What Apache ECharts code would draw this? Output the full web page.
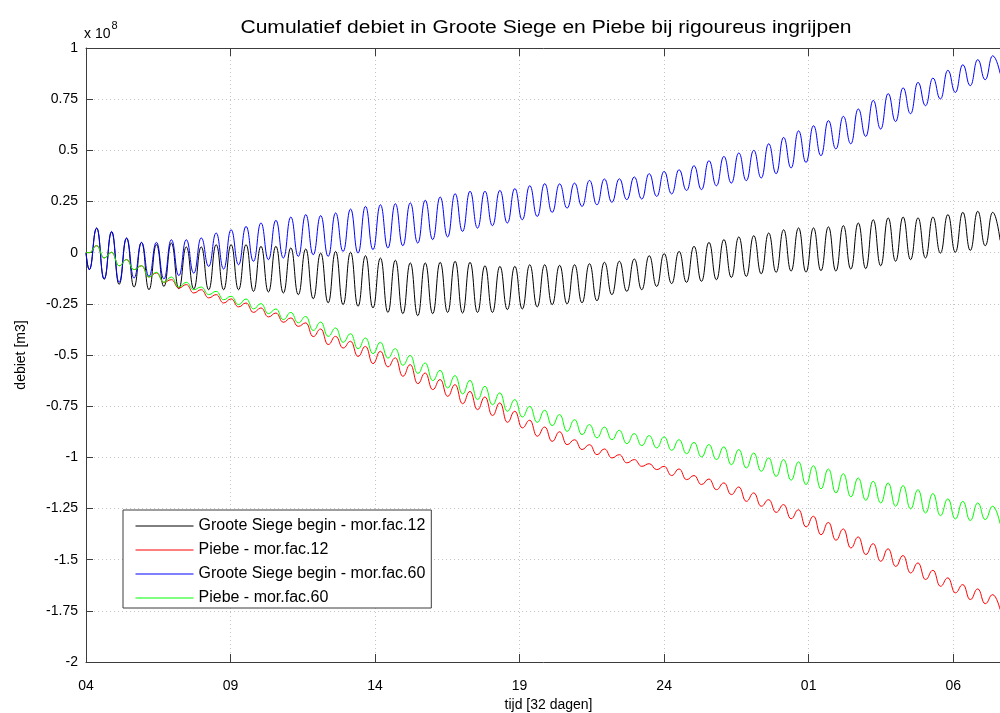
<!DOCTYPE html>
<html>
<head>
<meta charset="utf-8">
<script src="https://cdn.jsdelivr.net/npm/echarts@6/dist/echarts.min.js"></script>
<style>
  html, body { margin: 0; padding: 0; background: #fff; }
  #chart { width: 1000px; height: 713px; }
</style>
</head>
<body>
<div id="chart"></div>
<script>
// Cumulative discharge (units of 1e8 m3), 32 days of tidal cycles.
// Each series: value at t = 0, then alternating low / high water extremes.
const dayTickLabels = ['04', '09', '14', '19', '24', '01', '06'];
const seriesNames = [
  'Groote Siege begin - mor.fac.12',
  'Piebe - mor.fac.12',
  'Groote Siege begin - mor.fac.60',
  'Piebe - mor.fac.60'
];
const seriesColors = ['#000000', '#ff0000', '#0000ff', '#00ff00'];

const START_VALUE = 0;          // cumulative volume at t = 0
const FIRST_LOW_DAY = 0.112;    // first low water (days)
const HALF_TIDE_DAYS = 0.2583;  // half of the M2 tidal period (days)

// Groote Siege begin - mor.fac.12
const blackLows = [
  -0.083,
  -0.13, -0.155, -0.168, -0.181, -0.165, -0.176, -0.177, -0.181, -0.181, -0.181, -0.189, -0.192, -0.197, -0.205, -0.225,
  -0.245, -0.254, -0.262, -0.27, -0.292, -0.298, -0.308, -0.298, -0.292, -0.295, -0.292, -0.292, -0.278, -0.275, -0.265, -0.254,
  -0.25, -0.245, -0.235, -0.205, -0.189, -0.181, -0.165, -0.151, -0.145, -0.14, -0.132, -0.121, -0.116, -0.103, -0.096, -0.09,
  -0.095, -0.088, -0.09, -0.08, -0.078, -0.064, -0.042, -0.034, -0.026, -0.002, 0.002, 0.011, 0.034, 0.06
];
const blackHighs = [
  0.12, 0.10, 0.07, 0.05, 0.039, 0.047, 0.028, 0.028, 0.039, 0.039, 0.039, 0.031, 0.031, 0.023, 0.018,
  -0.002, 0.006, 0.002, -0.015, -0.026, -0.037, -0.05, -0.05, -0.047, -0.042, -0.047, -0.064, -0.067, -0.067, -0.059, -0.059, -0.062,
  -0.059, -0.054, -0.047, -0.042, -0.031, -0.015, -0.005, 0.006, 0.031, 0.05, 0.064, 0.077, 0.083, 0.096, 0.112,
  0.121, 0.121, 0.126, 0.132, 0.145, 0.161, 0.17, 0.174, 0.17, 0.174, 0.186, 0.197, 0.202, 0.197
];

// Piebe - mor.fac.12
const redLows = [
  0,
  -0.026, -0.064, -0.083, -0.119, -0.145, -0.173, -0.197, -0.221, -0.246, -0.265, -0.292, -0.314, -0.34, -0.36, -0.41,
  -0.449, -0.466, -0.507, -0.542, -0.558, -0.604, -0.64, -0.669, -0.702, -0.738, -0.767, -0.796, -0.829, -0.856, -0.897, -0.922,
  -0.938, -0.962, -0.987, -1.003, -1.027, -1.044, -1.06, -1.089, -1.109, -1.133, -1.158, -1.182, -1.215, -1.239, -1.269, -1.30,
  -1.34, -1.378, -1.405, -1.443, -1.475, -1.508, -1.533, -1.565, -1.597, -1.63, -1.662, -1.695, -1.715, -1.744
];
const redHighs = [
  0.034, 0.002, -0.034, -0.064, -0.099, -0.132, -0.156, -0.181, -0.205, -0.226, -0.246, -0.27, -0.295, -0.319, -0.343,
  -0.373, -0.409, -0.433, -0.458, -0.482, -0.514, -0.547, -0.588, -0.62, -0.645, -0.678, -0.705, -0.734, -0.775, -0.819, -0.852, -0.875,
  -0.914, -0.938, -0.959, -0.987, -1.011, -1.031, -1.044, -1.057, -1.089, -1.106, -1.125, -1.145, -1.174, -1.207, -1.231,
  -1.256, -1.288, -1.318, -1.35, -1.389, -1.422, -1.447, -1.48, -1.516, -1.552, -1.589, -1.622, -1.643, -1.671
];

// Groote Siege begin - mor.fac.60
const blueLows = [
  -0.083,
  -0.128, -0.145, -0.124, -0.116, -0.128, -0.112, -0.1, -0.067, -0.08, -0.059, -0.042, -0.034, -0.026, -0.018, -0.01,
  -0.018, 0.006, -0.002, 0.015, 0.023, 0.034, 0.047, 0.064, 0.077, 0.104, 0.12, 0.132, 0.145, 0.161, 0.177, 0.197,
  0.218, 0.226, 0.234, 0.246, 0.259, 0.262, 0.275, 0.287, 0.304, 0.308, 0.327, 0.34, 0.352, 0.365, 0.386, 0.414,
  0.441, 0.474, 0.507, 0.532, 0.568, 0.604, 0.641, 0.679, 0.718, 0.751, 0.783, 0.816, 0.845, 0.875
];
const blueHighs = [
  0.12, 0.104, 0.072, 0.05, 0.05, 0.063, 0.063, 0.072, 0.096, 0.112, 0.128, 0.145, 0.158, 0.174, 0.186,
  0.181, 0.194, 0.213, 0.226, 0.234, 0.239, 0.243, 0.256, 0.272, 0.288, 0.3, 0.3, 0.304, 0.313, 0.327, 0.337, 0.336,
  0.34, 0.353, 0.36, 0.361, 0.37, 0.386, 0.397, 0.405, 0.425, 0.449, 0.47, 0.487, 0.5, 0.532, 0.563,
  0.595, 0.62, 0.645, 0.666, 0.702, 0.744, 0.777, 0.805, 0.832, 0.853, 0.891, 0.918, 0.943, 0.962
];

// Piebe - mor.fac.60
const greenLows = [
  0,
  -0.026, -0.064, -0.083, -0.119, -0.145, -0.168, -0.181, -0.205, -0.23, -0.254, -0.275, -0.298, -0.327, -0.343, -0.38,
  -0.409, -0.438, -0.47, -0.493, -0.515, -0.55, -0.59, -0.625, -0.661, -0.69, -0.718, -0.743, -0.775, -0.803, -0.829, -0.845,
  -0.873, -0.889, -0.905, -0.914, -0.933, -0.943, -0.954, -0.966, -0.982, -0.998, -1.011, -1.036, -1.052, -1.068, -1.093, -1.112,
  -1.133, -1.154, -1.174, -1.193, -1.21, -1.223, -1.239, -1.252, -1.272, -1.285, -1.301, -1.309, -1.304, -1.325
];
const greenHighs = [
  0.034, 0.002, -0.034, -0.064, -0.096, -0.119, -0.145, -0.168, -0.189, -0.213, -0.226, -0.249, -0.275, -0.292, -0.312,
  -0.339, -0.368, -0.396, -0.417, -0.438, -0.469, -0.502, -0.539, -0.575, -0.601, -0.624, -0.653, -0.685, -0.718, -0.751, -0.77, -0.791,
  -0.816, -0.84, -0.852, -0.868, -0.884, -0.894, -0.9, -0.914, -0.927, -0.938, -0.949, -0.962, -0.979, -1.003, -1.011,
  -1.022, -1.041, -1.057, -1.08, -1.101, -1.117, -1.125, -1.138, -1.158, -1.177, -1.203, -1.215, -1.223, -1.239
];

// Interleave lows and highs on the half-tide time grid.
function tidalPoints(lows, highs) {
  const pts = [[0, START_VALUE]];
  const n = lows.length + highs.length;
  for (let j = 0; j < n; j++) {
    const t = FIRST_LOW_DAY + j * HALF_TIDE_DAYS;
    const v = (j % 2 === 0) ? lows[j / 2] : highs[(j - 1) / 2];
    pts.push([t, v]);
  }
  return pts;
}

const seriesData = [
  tidalPoints(blackLows, blackHighs),
  tidalPoints(redLows, redHighs),
  tidalPoints(blueLows, blueHighs),
  tidalPoints(greenLows, greenHighs)
];

const FONT = '"Liberation Sans", Arial, Helvetica, sans-serif';
const frameColor = '#3c3c3c';
const gridLine = { show: true, lineStyle: { color: '#c4c4c4', width: 1, type: [1, 3] } };

const chart = echarts.init(document.getElementById('chart'), null, { renderer: 'canvas' });
chart.setOption({
  animation: false,
  backgroundColor: '#ffffff',
  textStyle: { fontFamily: FONT },
  grid: { left: 86, top: 48, width: 925, bottom: 51, containLabel: false, outerBoundsMode: 'none' },
  graphic: [
    {
      type: 'text', x: 546, y: 19, scaleX: 1.17,
      style: {
        text: 'Cumulatief debiet in Groote Siege en Piebe bij rigoureus ingrijpen',
        font: '18px ' + FONT, fill: '#000', align: 'center', textAlign: 'center'
      }
    },
    {
      type: 'text', x: 84, y: 17,
      style: {
        text: '{b|x 10}{s|8}',
        rich: {
          b: { fontSize: 14, fontFamily: FONT, color: '#000', padding: [10, 0, 0, 0] },
          s: { fontSize: 11, fontFamily: FONT, color: '#000', padding: [0, 0, 6, 1] }
        }
      }
    }
  ],
  legend: {
    orient: 'vertical',
    left: 123, top: 510,
    backgroundColor: '#ffffff',
    borderColor: frameColor, borderWidth: 1,
    padding: [8, 6, 2, 12],
    itemWidth: 58, itemHeight: 16, itemGap: 8,
    itemStyle: { opacity: 0 },
    lineStyle: { width: 1 },
    textStyle: { fontSize: 16, fontFamily: FONT, color: '#000' },
    data: seriesNames
  },
  xAxis: [
    {
      type: 'value', min: 0, max: 32, interval: 5, position: 'bottom',
      axisLine: { show: true, onZero: false, lineStyle: { color: frameColor, width: 1 } },
      axisTick: { show: true, inside: true, length: 8, lineStyle: { color: frameColor } },
      axisLabel: {
        color: '#000', fontSize: 14, fontFamily: FONT, margin: 17,
        formatter: v => (v % 5 === 0 && dayTickLabels[v / 5] !== undefined) ? dayTickLabels[v / 5] : ''
      },
      splitLine: gridLine,
      name: 'tijd [32 dagen]', nameLocation: 'middle', nameGap: 36,
      nameTextStyle: { color: '#000', fontSize: 14, fontFamily: FONT }
    },
    {
      type: 'value', min: 0, max: 32, interval: 5, position: 'top',
      axisLine: { show: true, onZero: false, lineStyle: { color: frameColor, width: 1 } },
      axisTick: { show: true, inside: true, length: 8, lineStyle: { color: frameColor } },
      axisLabel: { show: false },
      splitLine: { show: false }
    }
  ],
  yAxis: {
    type: 'value', min: -2, max: 1, interval: 0.25,
    axisLine: { show: true, onZero: false, lineStyle: { color: frameColor, width: 1 } },
    axisTick: { show: true, inside: true, length: 7, lineStyle: { color: frameColor } },
    axisLabel: { color: '#000', fontSize: 14, fontFamily: FONT, margin: 8 },
    splitLine: gridLine,
    name: 'debiet [m3]', nameLocation: 'middle', nameGap: 58,
    nameTextStyle: { color: '#000', fontSize: 14, fontFamily: FONT }
  },
  series: seriesNames.map((name, k) => ({
    name: name,
    type: 'line',
    xAxisIndex: 0,
    data: seriesData[k],
    symbol: 'none',
    showSymbol: false,
    smooth: 0.5,
    smoothMonotone: 'x',
    clip: true,
    color: seriesColors[k],
    lineStyle: { color: seriesColors[k], width: 1 }
  }))
});
</script>
</body>
</html>
